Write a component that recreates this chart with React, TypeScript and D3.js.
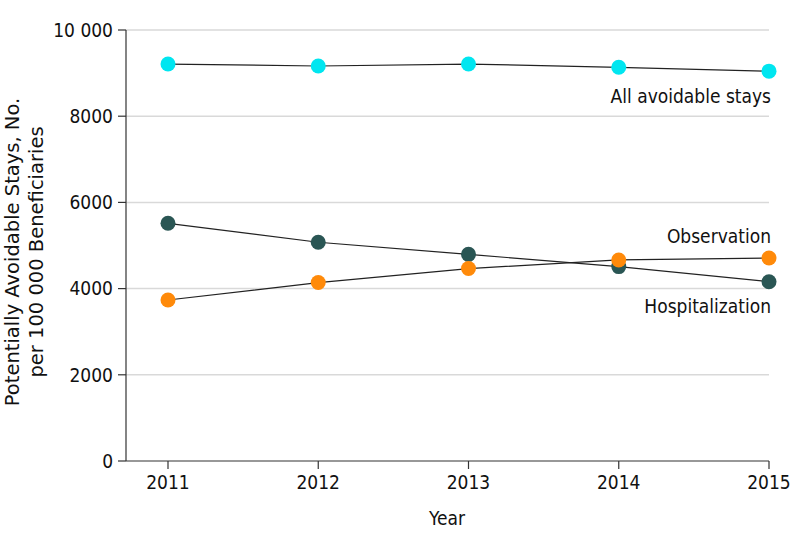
import React from "react";
import * as d3 from "d3";

const years = [2011, 2012, 2013, 2014, 2015];
const allStays = [9210, 9165, 9210, 9135, 9045];
const hospitalization = [5515, 5075, 4795, 4510, 4160];
const observation = [3735, 4140, 4465, 4665, 4710];
const yTicks = [0, 2000, 4000, 6000, 8000, 10000];
const yTickLabels = ["0", "2000", "4000", "6000", "8000", "10 000"];

const W = 798, H = 546;
const FONT = "'DejaVu Sans Condensed', 'DejaVu Sans', sans-serif";

export default function App() {
  const x = d3.scaleLinear().domain([2011, 2015]).range([168, 769]);
  const y = d3.scaleLinear().domain([0, 10000]).range([461, 30]);
  const line = d3.line<number>().x((_, i) => x(years[i])).y((d) => y(d));
  const series = [
    { name: "All avoidable stays", values: allStays, color: "#00E6F0", lx: 771, ly: 103 },
    { name: "Observation", values: observation, color: "#FF8A0A", lx: 771, ly: 243 },
    { name: "Hospitalization", values: hospitalization, color: "#2A5654", lx: 771, ly: 313 },
  ];
  const order = [series[0], series[2], series[1]];
  return (
    <svg width={W} height={H} style={{ position: "absolute", left: 0, top: 0, background: "#fff" }} fontFamily={FONT}>
      {yTicks.slice(1).map((t) => (
        <line key={t} x1={126} x2={769} y1={y(t)} y2={y(t)} stroke="#d9d9d9" strokeWidth={1.5} />
      ))}
      <line x1={126} x2={126} y1={y(10000)} y2={y(0)} stroke="#333" strokeWidth={1.2} />
      <line x1={126} x2={769} y1={y(0)} y2={y(0)} stroke="#333" strokeWidth={1.2} />
      {yTicks.map((t, i) => (
        <g key={t}>
          <line x1={118} x2={126} y1={y(t)} y2={y(t)} stroke="#333" strokeWidth={1.2} />
          <text x={113} y={y(t)} dy="0.36em" textAnchor="end" fontSize={19} fill="#111">{yTickLabels[i]}</text>
        </g>
      ))}
      {years.map((yr) => (
        <g key={yr}>
          <line x1={x(yr)} x2={x(yr)} y1={461} y2={469} stroke="#333" strokeWidth={1.2} />
          <text x={x(yr)} y={489} textAnchor="middle" fontSize={19} fill="#111">{yr}</text>
        </g>
      ))}
      <text x={447} y={525} textAnchor="middle" fontSize={19} fill="#111">Year</text>
      <g transform="translate(19,252) rotate(-90)" fontFamily="'DejaVu Sans', sans-serif">
        <text x={0} y={0} textAnchor="middle" fontSize={19.5} fill="#111">Potentially Avoidable Stays, No.</text>
        <text x={0} y={24} textAnchor="middle" fontSize={19.5} fill="#111">per 100 000 Beneficiaries</text>
      </g>
      {order.map((s) => (
        <path key={s.name} d={line(s.values) || ""} fill="none" stroke="#222" strokeWidth={1.2} />
      ))}
      {order.map((s) => (
        <g key={s.name + "p"}>
          {s.values.map((v, i) => (
            <circle key={i} cx={x(years[i])} cy={y(v)} r={7.5} fill={s.color} />
          ))}
        </g>
      ))}
      {series.map((s) => (
        <text key={s.name + "l"} x={s.lx} y={s.ly} textAnchor="end" fontSize={19} fill="#111">{s.name}</text>
      ))}
    </svg>
  );
}
